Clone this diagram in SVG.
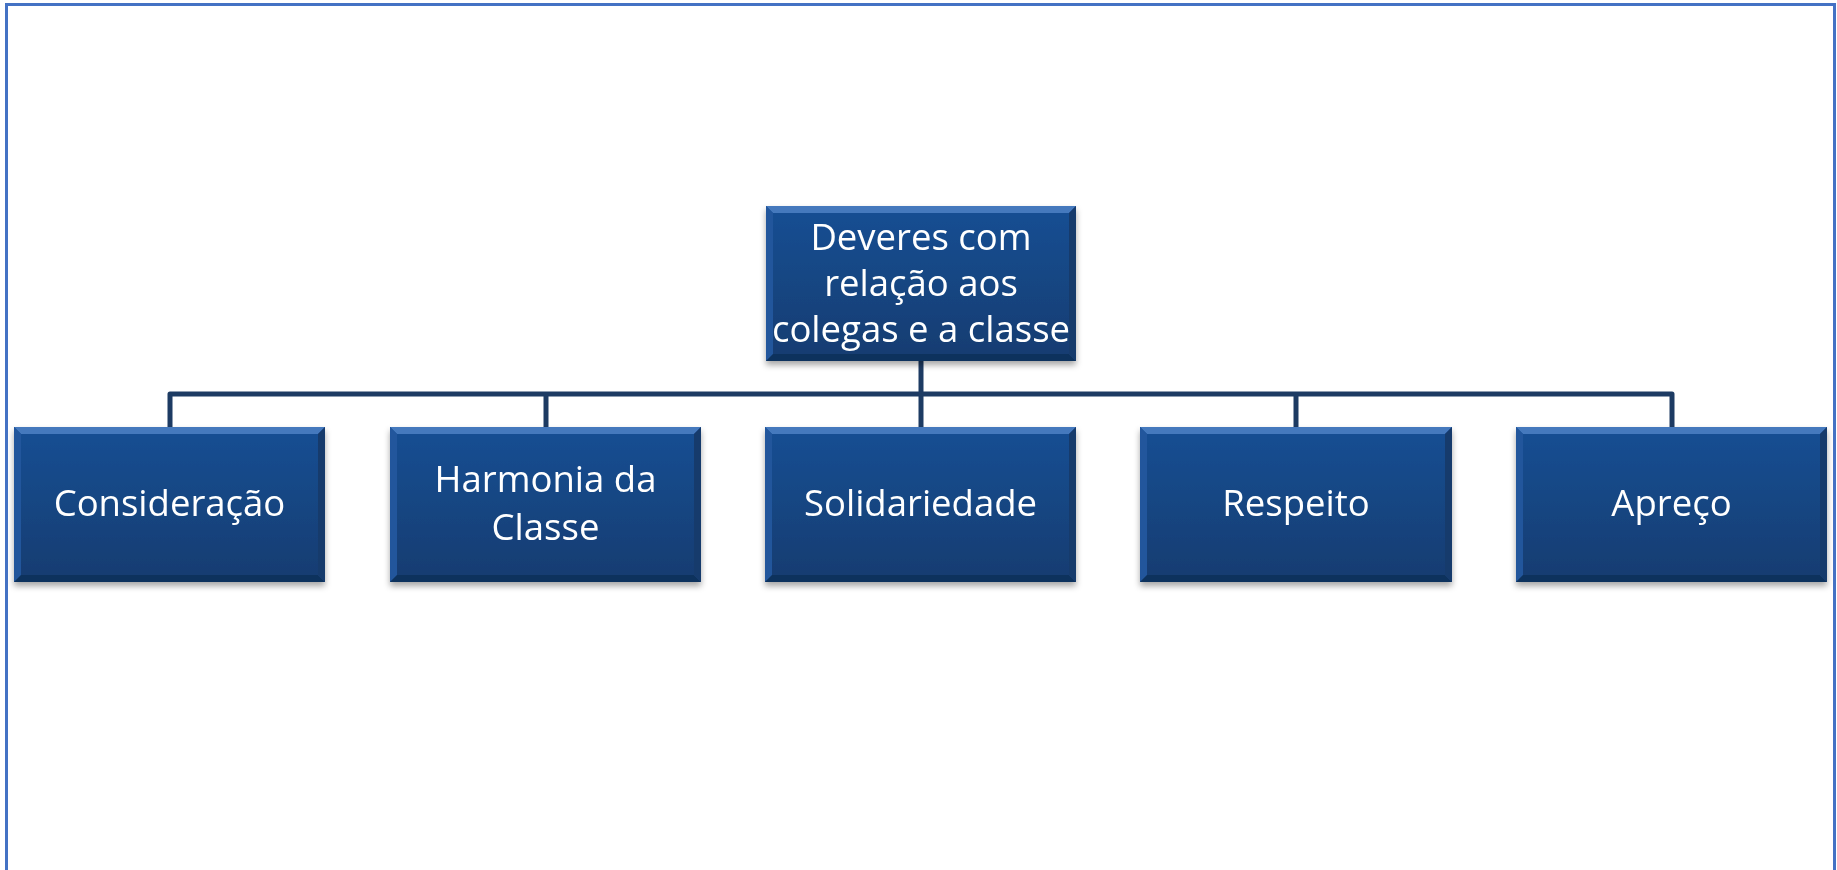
<svg xmlns="http://www.w3.org/2000/svg" width="1837" height="870" viewBox="0 0 1837 870">
<style>
.lbl{font-family:"Open Sans","Noto Sans","Liberation Sans",sans-serif;font-size:36.5px;fill:#ffffff;text-anchor:middle}
.conn{fill:none;stroke:#1d3b63;stroke-width:5;stroke-linejoin:round;stroke-linecap:butt}
.face{fill:url(#gFace)}
.bt{fill:#4479bd}
.bl{fill:#22579c}
.br{fill:#143a6c}
.bb{fill:#11325d}
</style>
<defs>
<linearGradient id="gFace" x1="0" y1="0" x2="0" y2="1">
<stop offset="0" stop-color="#174e92"/>
<stop offset="1" stop-color="#133d72"/>
</linearGradient>
<filter id="sh" x="-10%" y="-10%" width="120%" height="130%">
<feDropShadow dx="0" dy="4" stdDeviation="3" flood-color="#000" flood-opacity="0.35"/>
</filter>
</defs>
<rect x="0" y="0" width="1837" height="870" fill="#ffffff"/>
<rect x="6.5" y="4.5" width="1828" height="900" fill="none" stroke="#4472c4" stroke-width="3"/>
<g id="connectors">
<path class="conn" d="M921 361 V427"/>
<path class="conn" d="M170 427 V394 H1672 V427"/>
<path class="conn" d="M546 394 V427"/>
<path class="conn" d="M1296 394 V427"/>
</g>
<g id="root" filter="url(#sh)">
<rect x="766" y="206" width="310" height="155" fill="#174e92"/>
<polygon class="bt" points="766,206 1076,206 1069,213 773,213"/>
<polygon class="bl" points="766,206 773,213 773,354 766,361"/>
<polygon class="br" points="1076,206 1076,361 1069,354 1069,213"/>
<polygon class="bb" points="766,361 1076,361 1069,354 773,354"/>
<rect class="face" x="773" y="213" width="296" height="141"/>
<text class="lbl" x="921" y="250">Deveres com</text>
<text class="lbl" x="921" y="296">relação aos</text>
<text class="lbl" x="921" y="342">colegas e a classe</text>
</g>
<g id="n1" filter="url(#sh)">
<rect x="14" y="427" width="311" height="155" fill="#174e92"/>
<polygon class="bt" points="14,427 325,427 318,434 21,434"/>
<polygon class="bl" points="14,427 21,434 21,575 14,582"/>
<polygon class="br" points="325,427 325,582 318,575 318,434"/>
<polygon class="bb" points="14,582 325,582 318,575 21,575"/>
<rect class="face" x="21" y="434" width="297" height="141"/>
<text class="lbl" x="169.5" y="516">Consideração</text>
</g>
<g id="n2" filter="url(#sh)">
<rect x="390" y="427" width="311" height="155" fill="#174e92"/>
<polygon class="bt" points="390,427 701,427 694,434 397,434"/>
<polygon class="bl" points="390,427 397,434 397,575 390,582"/>
<polygon class="br" points="701,427 701,582 694,575 694,434"/>
<polygon class="bb" points="390,582 701,582 694,575 397,575"/>
<rect class="face" x="397" y="434" width="297" height="141"/>
<text class="lbl" x="545.5" y="492">Harmonia da</text>
<text class="lbl" x="545.5" y="540">Classe</text>
</g>
<g id="n3" filter="url(#sh)">
<rect x="765" y="427" width="311" height="155" fill="#174e92"/>
<polygon class="bt" points="765,427 1076,427 1069,434 772,434"/>
<polygon class="bl" points="765,427 772,434 772,575 765,582"/>
<polygon class="br" points="1076,427 1076,582 1069,575 1069,434"/>
<polygon class="bb" points="765,582 1076,582 1069,575 772,575"/>
<rect class="face" x="772" y="434" width="297" height="141"/>
<text class="lbl" x="920.5" y="516">Solidariedade</text>
</g>
<g id="n4" filter="url(#sh)">
<rect x="1140" y="427" width="312" height="155" fill="#174e92"/>
<polygon class="bt" points="1140,427 1452,427 1445,434 1147,434"/>
<polygon class="bl" points="1140,427 1147,434 1147,575 1140,582"/>
<polygon class="br" points="1452,427 1452,582 1445,575 1445,434"/>
<polygon class="bb" points="1140,582 1452,582 1445,575 1147,575"/>
<rect class="face" x="1147" y="434" width="298" height="141"/>
<text class="lbl" x="1296" y="516">Respeito</text>
</g>
<g id="n5" filter="url(#sh)">
<rect x="1516" y="427" width="311" height="155" fill="#174e92"/>
<polygon class="bt" points="1516,427 1827,427 1820,434 1523,434"/>
<polygon class="bl" points="1516,427 1523,434 1523,575 1516,582"/>
<polygon class="br" points="1827,427 1827,582 1820,575 1820,434"/>
<polygon class="bb" points="1516,582 1827,582 1820,575 1523,575"/>
<rect class="face" x="1523" y="434" width="297" height="141"/>
<text class="lbl" x="1671.5" y="516">Apreço</text>
</g>
</svg>
